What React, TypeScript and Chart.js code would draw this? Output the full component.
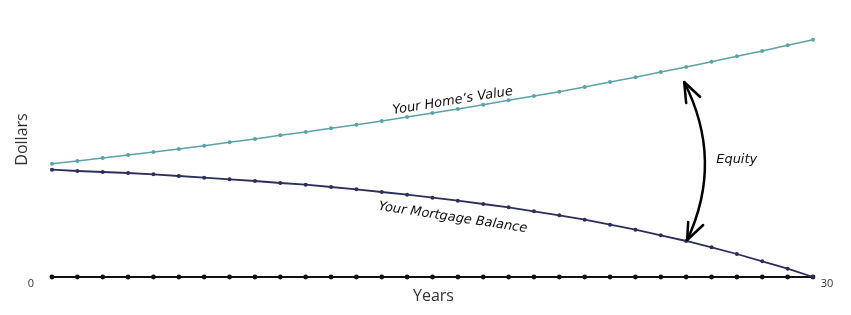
import React, { useEffect, useRef } from "react";
import { Chart, registerables } from "chart.js";

Chart.register(...registerables);

const years = Array.from({ length: 31 }, (_, i) => i);
const homeValue = [
  113.3, 116, 119, 122, 125, 128, 131.3, 134.7, 138, 141.7, 145, 148.7, 152.3, 156, 160, 164,
  168, 172.3, 176.7, 181, 185.3, 190, 195, 199.7, 205, 210, 215.3, 220.7, 226, 231.7, 237.3,
];
const mortgageBalance = [
  107.3, 106, 105, 104, 102.7, 101, 99.3, 97.7, 96, 94, 92.3, 90, 87.7, 85, 82.3, 79.3, 76.3,
  73, 69.7, 65.7, 61.7, 57.3, 52.3, 47.3, 41.7, 36, 29.7, 23, 15.7, 8.3, 0,
];
const baseline = years.map(() => 0);
const xTickLabels = ["0", "30"];
const equityYear = 25;

const TEAL = "#5ba3a6";
const NAVY = "#2c2e5c";
const BLACK = "#111111";
const HAND = '"DejaVu Sans", sans-serif';
const SANS = '"Open Sans", "DejaVu Sans", sans-serif';

const annotations = {
  id: "annotations",
  afterDatasetsDraw(chart: any) {
    const { ctx, scales, chartArea } = chart;
    const xs = scales.x;
    const ys = scales.y;
    ctx.save();
    // axis titles
    ctx.fillStyle = "#333";
    ctx.font = `16px ${SANS}`;
    ctx.textAlign = "center";
    ctx.textBaseline = "middle";
    ctx.fillText("Years", (chartArea.left + chartArea.right) / 2 + 1, chartArea.bottom + 19);
    ctx.save();
    ctx.translate(22, (chartArea.top + chartArea.bottom) / 2);
    ctx.rotate(-Math.PI / 2);
    ctx.fillText("Dollars", 9, 0);
    ctx.restore();
    // tick labels at ends
    ctx.font = `11px ${SANS}`;
    ctx.fillStyle = "#333";
    ctx.fillText(xTickLabels[0], xs.getPixelForValue(years[0]) - 21, ys.getPixelForValue(0) + 7);
    ctx.fillText(xTickLabels[1], xs.getPixelForValue(years[30]) + 14, ys.getPixelForValue(0) + 7);

    // handwritten labels
    ctx.fillStyle = "#111";
    ctx.font = `italic 13px ${HAND}`;
    const hx = xs.getPixelForValue(15.8);
    const hy = ys.getPixelForValue(homeValue[16]);
    ctx.save();
    ctx.translate(hx, hy - 8);
    ctx.rotate(-0.16);
    ctx.fillText("Your Home\u2019s Value", 0, 0);
    ctx.restore();

    const mx = xs.getPixelForValue(15.8);
    const my = ys.getPixelForValue(mortgageBalance[16]);
    ctx.save();
    ctx.translate(mx, my + 17);
    ctx.rotate(0.15);
    ctx.fillText("Your Mortgage Balance", 0, 0);
    ctx.restore();

    // equity arrow
    const ax = xs.getPixelForValue(equityYear);
    const topY = ys.getPixelForValue(homeValue[equityYear]) + 15;
    const botY = ys.getPixelForValue(mortgageBalance[equityYear]) - 1;
    const ax1 = ax - 2;
    const ax2 = ax + 1;
    ctx.strokeStyle = "#000";
    ctx.lineWidth = 2.5;
    ctx.lineCap = "round";
    ctx.lineJoin = "round";
    ctx.beginPath();
    ctx.moveTo(ax1, topY);
    ctx.quadraticCurveTo(ax + 38, (topY + botY) / 2, ax2, botY);
    ctx.stroke();
    // top head
    ctx.beginPath();
    ctx.moveTo(ax1 + 16, topY + 15);
    ctx.lineTo(ax1, topY);
    ctx.lineTo(ax1 + 2, topY + 21);
    ctx.stroke();
    // bottom head
    ctx.beginPath();
    ctx.moveTo(ax2 + 1, botY - 18);
    ctx.lineTo(ax2, botY);
    ctx.lineTo(ax2 + 16, botY - 15);
    ctx.stroke();

    ctx.fillStyle = "#111";
    ctx.font = `italic 13px ${HAND}`;
    ctx.textAlign = "left";
    ctx.fillText("Equity", ax + 30, (topY + botY) / 2 - 1);
    ctx.restore();
  },
};

export default function App() {
  const ref = useRef<HTMLCanvasElement>(null);
  useEffect(() => {
    if (!ref.current) return;
    const chart = new Chart(ref.current, {
      type: "line",
      data: {
        labels: years,
        datasets: [
          {
            data: homeValue,
            borderColor: TEAL,
            backgroundColor: TEAL,
            borderWidth: 1.6,
            pointRadius: 2,
            pointBorderWidth: 0,
            tension: 0,
            clip: false,
          },
          {
            data: mortgageBalance,
            borderColor: NAVY,
            backgroundColor: NAVY,
            borderWidth: 1.8,
            pointRadius: 2,
            pointBorderWidth: 0,
            tension: 0,
            clip: false,
          },
          {
            data: baseline,
            borderColor: BLACK,
            backgroundColor: BLACK,
            borderWidth: 2,
            pointRadius: 2.4,
            pointBorderWidth: 0,
            tension: 0,
            clip: false,
          },
        ] as any,
      },
      options: {
        animation: false,
        responsive: true,
        maintainAspectRatio: false,
        layout: { padding: { left: 52, right: 38, top: 20, bottom: 38 } },
        plugins: { legend: { display: false }, tooltip: { enabled: false } },
        scales: {
          x: { type: "linear", min: 0, max: 30, display: false },
          y: { type: "linear", min: 0, max: 257, display: false },
        },
      },
      plugins: [annotations],
    });
    return () => chart.destroy();
  }, []);
  return (
    <div style={{ position: "fixed", left: 0, top: 0, width: 851, height: 315, background: "#fff" }}>
      <canvas ref={ref} />
    </div>
  );
}
